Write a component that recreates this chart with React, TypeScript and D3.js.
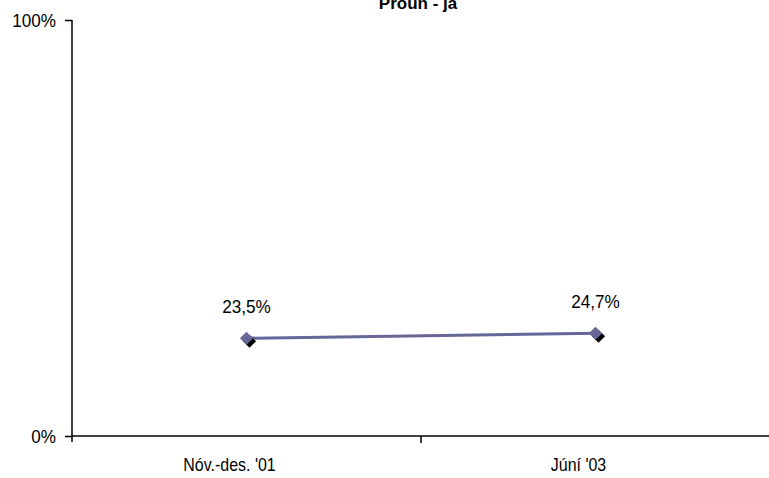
import React, { useEffect, useRef } from "react";
import * as d3 from "d3";

const categories = ["Nóv.-des. '01", "Júní '03"];
const values = [23.5, 24.7];
const yTicks = [0, 100];
const title = "Próun - já";

export default function App() {
  const svgRef = useRef<SVGSVGElement>(null);

  useEffect(() => {
    const w = 769;
    const h = 478;
    const left = 72;
    const right = 770;
    const top = 20;
    const bottom = 436;
    const font = "'Liberation Sans', Arial, sans-serif";
    const fs = "19px";

    const svg = d3.select(svgRef.current);
    svg.selectAll("*").remove();
    svg.attr("width", w).attr("height", h);

    const x = d3.scaleBand().domain(categories).range([left, right]);
    const y = d3.scaleLinear().domain([0, 100]).range([bottom, top]);

    // squeeze text horizontally to mimic a narrow font
    const narrow = (k: number) => (sel: d3.Selection<any, any, any, any>) => {
      sel.each(function () {
        const el = this as SVGTextElement;
        const len = el.getComputedTextLength();
        el.setAttribute("textLength", String(len * k));
        el.setAttribute("lengthAdjust", "spacingAndGlyphs");
      });
    };

    // title, clipped at top in the original
    svg
      .append("text")
      .attr("x", 418)
      .attr("y", 9)
      .attr("text-anchor", "middle")
      .style("font-family", font)
      .style("font-weight", "bold")
      .style("font-size", "17px")
      .text(title);

    // y axis
    const yAxis = d3
      .axisLeft(y)
      .tickValues(yTicks)
      .tickSize(7)
      .tickPadding(9)
      .tickFormat((d) => `${d}%`);
    const gy = svg.append("g").attr("transform", `translate(${left},0)`).call(yAxis);
    gy.select(".domain").attr("stroke", "#000").attr("stroke-width", 1.5).attr("d", `M0,${top}V${bottom + 6}`);
    gy.selectAll("line").attr("stroke", "#000").attr("stroke-width", 1.5);
    gy.selectAll("text")
      .style("font-family", font)
      .style("font-size", fs)
      .attr("fill", "#000")
      .call(narrow(0.9));

    // x axis
    const xAxis = d3.axisBottom(x).tickSize(0).tickPadding(22);
    const gx = svg.append("g").attr("transform", `translate(0,${bottom})`).call(xAxis);
    gx.select(".domain").attr("stroke", "#000").attr("stroke-width", 1.5).attr("d", `M${left},0H${right}`);
    gx.selectAll("text")
      .style("font-family", font)
      .style("font-size", fs)
      .attr("fill", "#000")
      .attr("dx", -17)
      .call(narrow(0.84));
    // category separator tick
    gx.append("line")
      .attr("x1", x(categories[1])!)
      .attr("x2", x(categories[1])!)
      .attr("y1", 0)
      .attr("y2", 7)
      .attr("stroke", "#000")
      .attr("stroke-width", 1.5);

    const cx = (i: number) => x(categories[i])! + x.bandwidth() / 2;

    const line = d3
      .line<number>()
      .x((d, i) => cx(i))
      .y((d) => y(d));

    svg
      .append("path")
      .datum(values)
      .attr("d", line)
      .attr("fill", "none")
      .attr("stroke", "#666699")
      .attr("stroke-width", 3);

    const diamond = d3.symbol().type(d3.symbolDiamond2).size(110);

    // shadow
    svg
      .selectAll(".shadow")
      .data(values)
      .join("path")
      .attr("d", diamond)
      .attr("transform", (d, i) => `translate(${cx(i) + 3},${y(d) + 3})`)
      .attr("fill", "#000");

    svg
      .selectAll(".marker")
      .data(values)
      .join("path")
      .attr("d", diamond)
      .attr("transform", (d, i) => `translate(${cx(i)},${y(d)})`)
      .attr("fill", "#666699");

    svg
      .selectAll(".label")
      .data(values)
      .join("text")
      .attr("x", (d, i) => cx(i))
      .attr("y", (d) => y(d) - 25)
      .attr("text-anchor", "middle")
      .style("font-family", font)
      .style("font-size", fs)
      .text((d) => `${d.toFixed(1).replace(".", ",")}%`)
      .call(narrow(0.9));
  }, []);

  return (
    <div style={{ position: "absolute", left: 0, top: 0 }}>
      <svg ref={svgRef} style={{ display: "block", background: "#fff" }}></svg>
    </div>
  );
}
